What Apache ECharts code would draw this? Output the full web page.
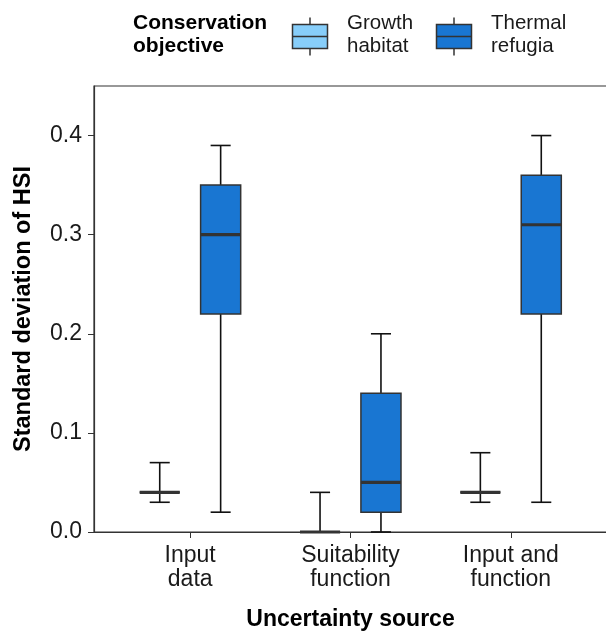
<!DOCTYPE html>
<html>
<head>
<meta charset="utf-8">
<script src="https://cdn.jsdelivr.net/npm/echarts@6/dist/echarts.min.js"></script>
<style>
  html, body { margin: 0; padding: 0; background: #fff; }
  #chart { width: 606px; height: 634px; }
</style>
</head>
<body>
<div id="chart"></div>
<script>
// Uncertainty sources along the x axis (two-line labels)
const categories = ['Input\ndata', 'Suitability\nfunction', 'Input and\nfunction'];
const yTicks = [0, 0.1, 0.2, 0.3, 0.4];

// Box statistics per source: [min, Q1, median, Q3, max]
const growthHabitat = [
  [0.03, 0.04, 0.04, 0.04, 0.07],
  [0.00, 0.00, 0.00, 0.00, 0.04],
  [0.03, 0.04, 0.04, 0.04, 0.08]
];
const thermalRefugia = [
  [0.02, 0.22, 0.30, 0.35, 0.39],
  [0.00, 0.02, 0.05, 0.14, 0.20],
  [0.03, 0.22, 0.31, 0.36, 0.40]
];

const groupNames = ['Growth habitat', 'Thermal refugia'];
const groupColors = ['#87CEFA', '#1976D2'];

const FONT = '"Liberation Sans", Arial, sans-serif';

function boxRenderer(offsetFrac) {
  return function (params, api) {
    const x = api.value(0);
    const unit = api.size([1, 0])[0];
    const cx = api.coord([x, 0])[0] + offsetFrac * unit;
    const half = 0.125 * unit;
    const capHalf = 0.0625 * unit;
    const yMin = api.coord([x, api.value(1)])[1];
    const yQ1 = api.coord([x, api.value(2)])[1];
    const yMed = api.coord([x, api.value(3)])[1];
    const yQ3 = api.coord([x, api.value(4)])[1];
    const yMax = api.coord([x, api.value(5)])[1];
    const lineStyle = { stroke: '#111', lineWidth: 1.6 };
    return {
      type: 'group',
      children: [
        { type: 'line', shape: { x1: cx, y1: yQ3, x2: cx, y2: yMax }, style: lineStyle },
        { type: 'line', shape: { x1: cx, y1: yQ1, x2: cx, y2: yMin }, style: lineStyle },
        { type: 'line', shape: { x1: cx - capHalf, y1: yMax, x2: cx + capHalf, y2: yMax }, style: lineStyle },
        { type: 'line', shape: { x1: cx - capHalf, y1: yMin, x2: cx + capHalf, y2: yMin }, style: lineStyle },
        { type: 'rect', shape: { x: cx - half, y: yQ3, width: 2 * half, height: yQ1 - yQ3 },
          style: { fill: api.visual('color'), stroke: '#333', lineWidth: 1.5 } },
        { type: 'line', shape: { x1: cx - half, y1: yMed, x2: cx + half, y2: yMed },
          style: { stroke: '#333', lineWidth: 3.2 } }
      ]
    };
  };
}

function toRows(stats) {
  return stats.map((s, i) => [i + 1].concat(s));
}

// Legend key: small box with whiskers and a median line
function legendKey(color) {
  return [
    { type: 'line', shape: { x1: 17.5, y1: 0, x2: 17.5, y2: 38 }, style: { stroke: '#333', lineWidth: 1.5 } },
    { type: 'rect', shape: { x: 0, y: 7, width: 35, height: 24 }, style: { fill: color, stroke: '#333', lineWidth: 1.5 } },
    { type: 'line', shape: { x1: 0, y1: 19, x2: 35, y2: 19 }, style: { stroke: '#333', lineWidth: 1.5 } }
  ];
}

const chart = echarts.init(document.getElementById('chart'), null, { renderer: 'canvas' });

chart.setOption({
  backgroundColor: '#fff',
  animation: false,
  grid: {
    left: 94, right: -1, top: 86, bottom: 102,
    containLabel: false, outerBoundsMode: 'none',
    show: true, borderColor: '#333', borderWidth: 1.2
  },
  xAxis: {
    type: 'value',
    min: 0.4,
    max: 3.6,
    name: 'Uncertainty source',
    nameLocation: 'middle',
    nameGap: 76,
    nameTextStyle: { fontFamily: FONT, fontSize: 23, fontWeight: 'bold', color: '#000' },
    splitLine: { show: false },
    axisLine: { show: true, lineStyle: { color: '#333', width: 1.2 } },
    axisTick: { show: true, length: 6, lineStyle: { color: '#333' }, customValues: [1, 2, 3] },
    axisLabel: {
      customValues: [1, 2, 3],
      formatter: v => categories[Math.round(v) - 1] || '',
      fontFamily: FONT, fontSize: 23, color: '#1a1a1a', lineHeight: 24, margin: 12
    }
  },
  yAxis: {
    type: 'value',
    min: 0,
    max: 0.45,
    name: 'Standard deviation of HSI',
    nameLocation: 'middle',
    nameGap: 58,
    nameTextStyle: { fontFamily: FONT, fontSize: 23.5, fontWeight: 'bold', color: '#000' },
    splitLine: { show: false },
    axisLine: { show: true, lineStyle: { color: '#333', width: 1.2 } },
    axisTick: { show: true, length: 6, lineStyle: { color: '#333' }, customValues: yTicks },
    axisLabel: {
      customValues: yTicks,
      formatter: v => v.toFixed(1),
      fontFamily: FONT, fontSize: 23, color: '#1a1a1a', margin: 12
    }
  },
  graphic: [
    { type: 'text', left: 133, top: 12,
      style: { text: 'Conservation\nobjective', font: 'bold 21px ' + FONT, fill: '#000', lineHeight: 23 } },
    { type: 'group', left: 290, top: 15, children: legendKey(groupColors[0]) },
    { type: 'text', left: 347, top: 12,
      style: { text: 'Growth\nhabitat', font: '20.5px ' + FONT, fill: '#1a1a1a', lineHeight: 23 } },
    { type: 'group', left: 434, top: 15, children: legendKey(groupColors[1]) },
    { type: 'text', left: 491, top: 12,
      style: { text: 'Thermal\nrefugia', font: '20.5px ' + FONT, fill: '#1a1a1a', lineHeight: 23 } }
  ],
  series: [
    {
      name: groupNames[0], type: 'custom', clip: false,
      itemStyle: { color: groupColors[0] },
      encode: { x: 0, y: [1, 2, 3, 4, 5] },
      data: toRows(growthHabitat),
      renderItem: boxRenderer(-0.19), z: 3
    },
    {
      name: groupNames[1], type: 'custom', clip: false,
      itemStyle: { color: groupColors[1] },
      encode: { x: 0, y: [1, 2, 3, 4, 5] },
      data: toRows(thermalRefugia),
      renderItem: boxRenderer(0.19), z: 3
    }
  ]
});
</script>
</body>
</html>
